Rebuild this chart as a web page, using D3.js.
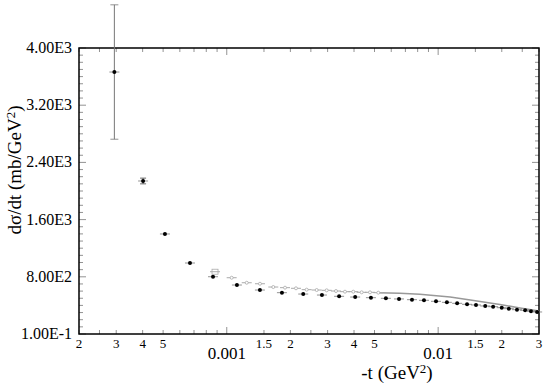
<!DOCTYPE html>
<html>
<head>
<meta charset="utf-8">
<script src="https://cdn.jsdelivr.net/npm/d3@7"></script>
<style>
  body { margin: 0; background: #fff; }
</style>
</head>
<body>
<div id="chart"></div>
<script>
// black series: -t (GeV^2), dsigma/dt, error
var blackT = [2.94e-4, 4.02e-4, 5.1e-4, 6.7e-4, 8.61e-4, 1.117e-3, 1.435e-3, 1.824e-3, 2.30e-3, 2.82e-3,
  3.40e-3, 4.05e-3, 4.81e-3, 5.66e-3, 6.53e-3, 7.52e-3, 8.57e-3, 9.77e-3, 1.10e-2, 1.23e-2,
  1.37e-2, 1.51e-2, 1.67e-2, 1.82e-2, 2.00e-2, 2.16e-2, 2.36e-2, 2.58e-2, 2.75e-2, 2.94e-2]
var blackV = [3664, 2140, 1399, 993, 801, 685, 615, 578, 559, 545,
  527, 517, 508, 499, 490, 480, 471, 457, 443, 429,
  415, 406, 392, 382, 368, 354, 340, 331, 317, 308]
var blackErr = [940, 40, 15, 12, 10, 8, 8, 6, 6, 6,
  5, 5, 5, 5, 5, 5, 5, 5, 5, 5,
  5, 5, 5, 5, 5, 5, 5, 5, 5, 5]

// gray series points
var grayT = [8.80e-4, 1.055e-3, 1.243e-3, 1.436e-3, 1.66e-3, 1.886e-3, 2.126e-3, 2.388e-3,
  2.663e-3, 2.970e-3, 3.287e-3, 3.625e-3, 3.968e-3, 4.347e-3, 4.759e-3, 5.21e-3]
var grayV = [871, 787, 717, 703, 657, 648, 639, 620, 615, 611, 601, 592, 592, 583, 583, 578]

// gray curve (dense gray points at large -t)
var curveT = [5.2e-3, 6.59e-3, 8.2e-3, 1.14e-2, 1.42e-2, 1.96e-2, 2.44e-2, 3.0e-2]
var curveV = [578, 570, 555, 517, 476, 413, 364, 322]

var yTicks = [0.1, 800, 1600, 2400, 3200, 4000]
var yLabels = ["1.00E-1", "8.00E2", "1.60E3", "2.40E3", "3.20E3", "4.00E3"]
var xTicks = [2e-4, 3e-4, 4e-4, 5e-4, 1e-3, 1.5e-3, 2e-3, 3e-3, 4e-3, 5e-3, 1e-2, 1.5e-2, 2e-2, 3e-2]
var xLabels = ["2", "3", "4", "5", "0.001", "1.5", "2", "3", "4", "5", "0.01", "1.5", "2", "3"]

var W = 550, H = 390
var L = 79, R = 539, T = 48, B = 334
var FONT = "'Liberation Serif', 'Times New Roman', serif"

var svg = d3.select("#chart").append("svg")
  .attr("width", W).attr("height", H)
  .style("font-family", FONT)

var x = d3.scaleLog().domain([2e-4, 3e-2]).range([L, R])
var y = d3.scaleLinear().domain([0, 4000]).range([B, T])

// minor tick positions
var xMinor = []
;[1e-4, 1e-3, 1e-2].forEach(function(d){
  [1, 1.5, 2, 2.5, 3, 4, 5, 6, 7, 8, 9].forEach(function(m){
    var v = d * m
    if (v >= 2e-4 && v <= 3e-2) xMinor.push(v)
  })
})
var yMinor = d3.range(0, 4001, 100)

function minorX(g, ypos, dir){
  g.selectAll(null).data(xMinor).enter().append("line")
    .attr("x1", d => x(d)).attr("x2", d => x(d))
    .attr("y1", ypos).attr("y2", d => ypos + dir * ((Math.abs(Math.log10(d) - Math.round(Math.log10(d))) < 1e-6) ? 7 : 4))
    .attr("stroke", "#777").attr("stroke-width", 0.8)
}
function minorY(g, xpos, dir){
  g.selectAll(null).data(yMinor).enter().append("line")
    .attr("y1", d => y(d)).attr("y2", d => y(d))
    .attr("x1", xpos).attr("x2", d => xpos + dir * (d % 800 == 0 ? 7 : 4))
    .attr("stroke", "#777").attr("stroke-width", 0.8)
}

var ticks = svg.append("g")
minorX(ticks, B, -1)
minorX(ticks, T, 1)
minorY(ticks, L, 1)
minorY(ticks, R, -1)

// frame
svg.append("rect")
  .attr("x", L).attr("y", T).attr("width", R - L).attr("height", B - T)
  .attr("fill", "none").attr("stroke", "#000").attr("stroke-width", 1.5)

// y labels
svg.selectAll("text.ylab").data(yTicks).enter().append("text")
  .attr("class", "ylab")
  .attr("x", L - 7).attr("y", d => y(d) + 5)
  .attr("text-anchor", "end")
  .style("font-size", "16px")
  .text((d, i) => yLabels[i])

// x labels
svg.selectAll("text.xlab").data(xTicks).enter().append("text")
  .attr("class", "xlab")
  .attr("x", d => x(d))
  .attr("y", (d, i) => xLabels[i].indexOf("0.0") == 0 ? 359 : 348)
  .attr("text-anchor", "middle")
  .style("font-size", (d, i) => xLabels[i].indexOf("0.0") == 0 ? "17px" : "13px")
  .text((d, i) => xLabels[i])

// axis titles
var xt = svg.append("text").attr("x", 397).attr("y", 379)
  .attr("text-anchor", "middle").style("font-size", "19px")
xt.append("tspan").text("-t (GeV")
xt.append("tspan").attr("dy", -6).style("font-size", "13px").text("2")
xt.append("tspan").attr("dy", 6).text(")")

var yt = svg.append("text")
  .attr("transform", "translate(21,170) rotate(-90)")
  .attr("text-anchor", "middle").style("font-size", "19px")
yt.append("tspan").text("d\u03c3/dt (mb/GeV")
yt.append("tspan").attr("dy", -6).style("font-size", "13px").text("2")
yt.append("tspan").attr("dy", 6).text(")")

// gray curve
var line = d3.line().x(d => x(d[0])).y(d => y(d[1]))
svg.append("path")
  .datum(curveT.map((t, i) => [t, curveV[i]]))
  .attr("d", line)
  .attr("fill", "none").attr("stroke", "#999").attr("stroke-width", 1.5)

// gray points
var gray = svg.append("g")
grayT.forEach(function(t, i){
  var cx = x(t), cy = y(grayV[i])
  gray.append("line").attr("x1", cx - 5).attr("x2", cx + 5).attr("y1", cy).attr("y2", cy)
    .attr("stroke", "#aaa").attr("stroke-width", 1)
  if (i == 0) {
    gray.append("rect").attr("x", cx - 3).attr("y", cy - 2.5).attr("width", 6).attr("height", 5)
      .attr("fill", "none").attr("stroke", "#aaa").attr("stroke-width", 0.8)
  } else {
    gray.append("circle").attr("cx", cx).attr("cy", cy).attr("r", 1.5)
      .attr("fill", "#fff").attr("stroke", "#aaa").attr("stroke-width", 0.8)
  }
})

// black points with error bars
var black = svg.append("g")
blackT.forEach(function(t, i){
  var cx = x(t), cy = y(blackV[i])
  var e = blackErr[i]
  var big = e > 100
  black.append("line").attr("x1", cx).attr("x2", cx)
    .attr("y1", y(blackV[i] + e)).attr("y2", y(blackV[i] - e))
    .attr("stroke", big ? "#777" : "#444").attr("stroke-width", big ? 1 : 0.8)
  if (e > 20) {
    ;[blackV[i] + e, blackV[i] - e].forEach(function(v){
      black.append("line").attr("x1", cx - (big ? 4 : 3)).attr("x2", cx + (big ? 4 : 3))
        .attr("y1", y(v)).attr("y2", y(v))
        .attr("stroke", big ? "#777" : "#444").attr("stroke-width", 0.8)
    })
  }
  black.append("line").attr("x1", cx - 5).attr("x2", cx + 5).attr("y1", cy).attr("y2", cy)
    .attr("stroke", "#777").attr("stroke-width", 0.8)
  black.append("circle").attr("cx", cx).attr("cy", cy).attr("r", 2).attr("fill", "#000")
})
</script>
</body>
</html>
